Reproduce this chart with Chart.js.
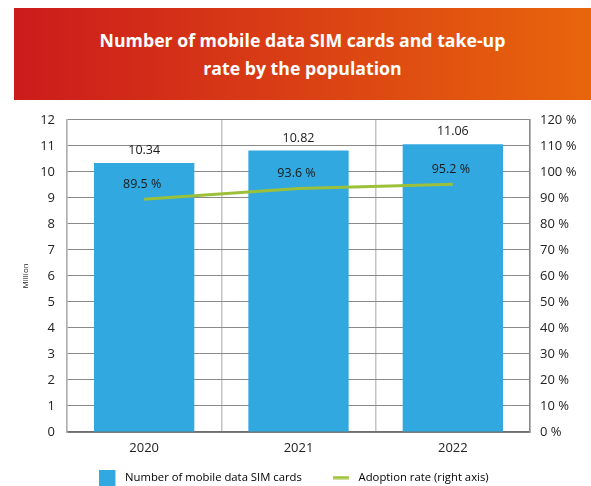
<!DOCTYPE html>
<html>
<head>
<meta charset="utf-8">
<script src="https://cdn.jsdelivr.net/npm/chart.js@4.4.1/dist/chart.umd.min.js"></script>
<style>
  html, body { margin: 0; padding: 0; background: #fff; width: 591px; height: 486px; overflow: hidden; }
  #banner {
    position: absolute; left: 14px; top: 8px; width: 577px; height: 92px;
    background: linear-gradient(to right, #cc1b1c, #e8650c);
    color: #fff; font-family: "Open Sans", sans-serif; font-weight: 700; font-size: 17.7px;
    line-height: 28px; text-align: center; display: flex; align-items: center; justify-content: center;
  }
  #wrap { position: absolute; left: 0; top: 100px; width: 591px; height: 386px; }
</style>
</head>
<body>
<div id="banner"><div>Number of mobile data SIM cards and take-up<br>rate by the population</div></div>
<div id="wrap"><canvas id="c"></canvas></div>
<script>
const categories = ["2020", "2021", "2022"];
const simCards = [10.34, 10.82, 11.06];
const adoptionRate = [89.5, 93.6, 95.2];
const leftTicks = [0, 1, 2, 3, 4, 5, 6, 7, 8, 9, 10, 11, 12];
const rightTicks = [0, 10, 20, 30, 40, 50, 60, 70, 80, 90, 100, 110, 120];

const BAR_COLOR = '#31a8e0';
const LINE_COLOR = '#9dc03b';
const tickFont = { family: "'Open Sans', sans-serif", size: 13 };

function makeSwatch(w, h, fillW, fillH, color) {
  const c = document.createElement('canvas');
  c.width = w; c.height = h;
  const g = c.getContext('2d');
  g.fillStyle = color; g.fillRect(0, (h - fillH) / 2, fillW, fillH);
  return c;
}
const barSwatch = makeSwatch(20, 16, 16, 16, BAR_COLOR);
const lineSwatch = makeSwatch(20, 4, 16, 3, LINE_COLOR);

const labelPlugin = {
  id: 'valueLabels',
  beforeLayout(chart) {
    const lg = chart.legend;
    if (lg && !lg._patched) {
      const orig = lg.fit.bind(lg);
      lg.fit = function () { orig(); this.height = 28; };
      lg._patched = true;
    }
  },
  afterLayout(chart) {
    const lg = chart.legend;
    if (lg) {
      const pad = lg.options.labels.padding;
      const fs = lg.options.labels.font.size;
      lg.top = 377.5 - pad - fs / 2;
      lg.left -= 1.5; lg.right -= 1.5;
    }
  },
  afterDatasetsDraw(chart) {
    const ctx = chart.ctx;
    ctx.save();
    ctx.font = "12.5px 'Open Sans', sans-serif";
    ctx.fillStyle = '#1a1a1a';
    ctx.textAlign = 'center';
    ctx.textBaseline = 'middle';
    chart.getDatasetMeta(0).data.forEach((el, i) => {
      ctx.fillText(simCards[i].toFixed(2), el.x, el.y - 12.5);
    });
    chart.getDatasetMeta(1).data.forEach((el, i) => {
      ctx.fillText(adoptionRate[i].toFixed(1) + ' %', el.x - 2, el.y - 15);
    });
    ctx.restore();
  }
};

new Chart(document.getElementById('c'), {
  data: {
    labels: categories,
    datasets: [
      {
        type: 'bar', label: 'Number of mobile data SIM cards', data: simCards,
        backgroundColor: BAR_COLOR, borderWidth: 0,
        categoryPercentage: 0.65, barPercentage: 1, yAxisID: 'y', order: 2
      },
      {
        type: 'line', label: 'Adoption rate (right axis)', data: adoptionRate,
        borderColor: LINE_COLOR, backgroundColor: LINE_COLOR, borderWidth: 3,
        pointRadius: 0, tension: 0, yAxisID: 'y1', order: 1
      }
    ]
  },
  options: {
    responsive: true, maintainAspectRatio: false, animation: false,
    layout: { padding: { top: 18, left: 0, right: 0, bottom: 0 } },
    plugins: {
      legend: {
        position: 'bottom',
        labels: {
          font: { family: "'Open Sans', sans-serif", size: 11.3 },
          color: '#333',
          usePointStyle: true, pointStyleWidth: 20, boxHeight: 16, padding: 31,
          generateLabels(chart) {
            return [
              { text: 'Number of mobile data SIM cards', fillStyle: BAR_COLOR, strokeStyle: BAR_COLOR, lineWidth: 0, datasetIndex: 0, pointStyle: barSwatch },
              { text: 'Adoption rate (right axis)', fillStyle: LINE_COLOR, strokeStyle: LINE_COLOR, lineWidth: 0, datasetIndex: 1, pointStyle: lineSwatch }
            ];
          }
        }
      },
      tooltip: { enabled: false }
    },
    scales: {
      x: {
        offset: true,
        grid: { offset: true, color: '#c4c4c4', lineWidth: 1.5, drawTicks: false },
        border: { color: '#6e6e6e', width: 1.5 },
        ticks: { font: tickFont, color: '#222', padding: 8 },
        afterFit(s) { s.height = 26; }
      },
      y: {
        position: 'left', min: 0, max: 12,
        afterBuildTicks(s) { s.ticks = leftTicks.map(v => ({ value: v })); },
        grid: { color: '#8a8a8a', lineWidth: 1, drawTicks: false },
        border: { color: '#b0b0b0', width: 1.5 },
        ticks: { font: tickFont, color: '#222', padding: 12 },
        title: { display: true, text: 'Million', font: { family: "'Open Sans', sans-serif", size: 8 }, color: '#222', padding: { top: 21, bottom: 0 } },
        afterFit(s) { s.width = 67; }
      },
      y1: {
        position: 'right', min: 0, max: 120,
        afterBuildTicks(s) { s.ticks = rightTicks.map(v => ({ value: v })); },
        grid: { display: false, drawTicks: false },
        border: { color: '#8a8a8a', width: 1.5 },
        ticks: { font: tickFont, color: '#222', padding: 10, callback: v => v + ' %' },
        afterFit(s) { s.width = 61; }
      }
    }
  },
  plugins: [labelPlugin]
});
</script>
</body>
</html>
